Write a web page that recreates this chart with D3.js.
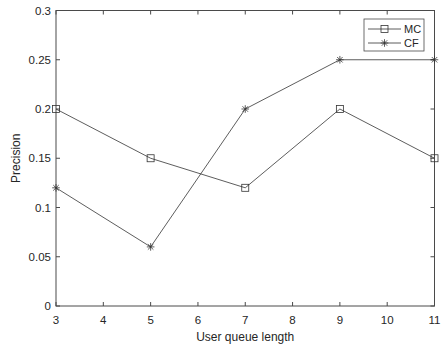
<!DOCTYPE html>
<html><head><meta charset="utf-8">
<script src="https://cdn.jsdelivr.net/npm/d3@7"></script>
<style>body{margin:0;background:#fff}svg{display:block}text{font-family:"Liberation Sans",Arial,sans-serif}</style>
</head><body>
<svg id="c" width="447" height="347"></svg>
<script>
const xValues = [3, 5, 7, 9, 11];
const mcValues = [0.2, 0.15, 0.12, 0.2, 0.15];
const cfValues = [0.12, 0.06, 0.2, 0.25, 0.25];
const xTicks = [3, 4, 5, 6, 7, 8, 9, 10, 11];
const yTicks = [0, 0.05, 0.1, 0.15, 0.2, 0.25, 0.3];
const seriesNames = ["MC", "CF"];

const svg = d3.select("#c");
const L = 56, R = 434.5, T = 10.5, B = 306;
const x = d3.scaleLinear().domain([3, 11]).range([L, R]);
const y = d3.scaleLinear().domain([0, 0.3]).range([B, T]);
const axisColor = "#4a4a4a", textColor = "#262626";

svg.append("rect").attr("x", L).attr("y", T).attr("width", R - L).attr("height", B - T)
  .attr("fill", "none").attr("stroke", axisColor).attr("stroke-width", 1);

const tl = 4;
const g = svg.append("g");
xTicks.forEach(t => {
  g.append("line").attr("x1", x(t)).attr("x2", x(t)).attr("y1", B).attr("y2", B - tl).attr("stroke", axisColor);
  g.append("line").attr("x1", x(t)).attr("x2", x(t)).attr("y1", T).attr("y2", T + tl).attr("stroke", axisColor);
  g.append("text").attr("x", x(t)).attr("y", B + 18).attr("text-anchor", "middle")
    .attr("font-size", 11.5).attr("fill", textColor).text(d3.format("d")(t));
});
yTicks.forEach(t => {
  g.append("line").attr("x1", L).attr("x2", L + tl).attr("y1", y(t)).attr("y2", y(t)).attr("stroke", axisColor);
  g.append("line").attr("x1", R).attr("x2", R - tl).attr("y1", y(t)).attr("y2", y(t)).attr("stroke", axisColor);
  g.append("text").attr("x", L - 5).attr("y", y(t) + 4).attr("text-anchor", "end")
    .attr("font-size", 11.5).attr("fill", textColor).text(t === 0 ? "0" : String(t));
});

svg.append("text").attr("x", (L + R) / 2).attr("y", 341).attr("text-anchor", "middle")
  .attr("font-size", 12).attr("fill", textColor).text("User queue length");
svg.append("text").attr("transform", `translate(20,${(T + B) / 2}) rotate(-90)`).attr("text-anchor", "middle")
  .attr("font-size", 12).attr("fill", textColor).text("Precision");

const lineColor = "#333";
const line = d3.line().x(d => x(d[0])).y(d => y(d[1]));

function square(gg, cx, cy) {
  gg.append("rect").attr("x", cx - 3.5).attr("y", cy - 3.5).attr("width", 7).attr("height", 7)
    .attr("fill", "none").attr("stroke", lineColor).attr("stroke-width", 0.8);
}
function star(gg, cx, cy) {
  const r = 3.8;
  const p = d3.path();
  p.moveTo(cx - r, cy); p.lineTo(cx + r, cy);
  p.moveTo(cx, cy - r); p.lineTo(cx, cy + r);
  const d = r * 0.72;
  p.moveTo(cx - d, cy - d); p.lineTo(cx + d, cy + d);
  p.moveTo(cx - d, cy + d); p.lineTo(cx + d, cy - d);
  gg.append("path").attr("d", p.toString()).attr("stroke", lineColor).attr("stroke-width", 0.8).attr("fill", "none");
}

const mcData = xValues.map((v, i) => [v, mcValues[i]]);
const cfData = xValues.map((v, i) => [v, cfValues[i]]);
svg.append("path").attr("d", line(mcData)).attr("fill", "none").attr("stroke", lineColor).attr("stroke-width", 0.8);
svg.append("path").attr("d", line(cfData)).attr("fill", "none").attr("stroke", lineColor).attr("stroke-width", 0.8);
mcData.forEach(d => square(svg, x(d[0]), y(d[1])));
cfData.forEach(d => star(svg, x(d[0]), y(d[1])));

const lg = svg.append("g");
lg.append("rect").attr("x", 364).attr("y", 19).attr("width", 60).attr("height", 32)
  .attr("fill", "#fff").attr("stroke", axisColor).attr("stroke-width", 0.8);
const rows = [29, 43];
seriesNames.forEach((n, i) => {
  lg.append("line").attr("x1", 368).attr("x2", 401).attr("y1", rows[i]).attr("y2", rows[i])
    .attr("stroke", lineColor).attr("stroke-width", 0.8);
  if (i === 0) square(lg, 384.5, rows[i]); else star(lg, 384.5, rows[i]);
  lg.append("text").attr("x", 404).attr("y", rows[i] + 4).attr("font-size", 11)
    .attr("fill", textColor).text(n);
});
</script>
</body></html>
